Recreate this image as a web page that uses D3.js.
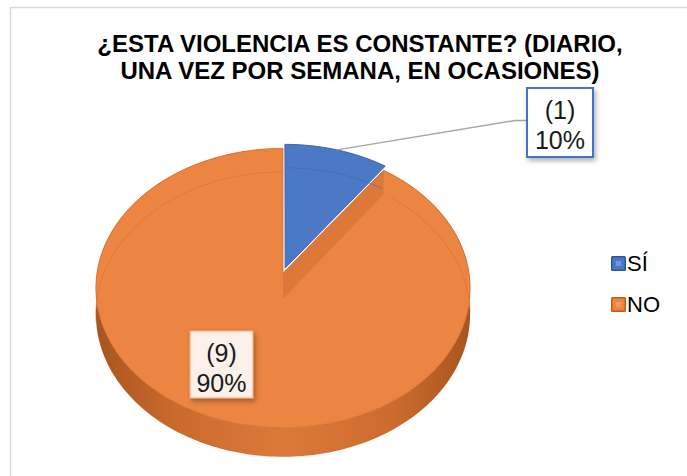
<!DOCTYPE html>
<html>
<head>
<meta charset="utf-8">
<script src="https://cdn.jsdelivr.net/npm/d3@7"></script>
<style>
  body { margin: 0; background: #fff; }
  svg text { font-family: "Liberation Sans", Arial, sans-serif; }
</style>
</head>
<body>
<svg id="chart" width="687" height="476"></svg>
<script>
// data
const categories = ['SÍ', 'NO'];
const counts = [1, 9];
const titleLines = ['¿ESTA VIOLENCIA ES CONSTANTE? (DIARIO,', 'UNA VEZ POR SEMANA, EN OCASIONES)'];

const topColor = d3.scaleOrdinal().domain(categories).range(['#4c79c6', '#ec8541']);
const edgeColor = d3.scaleOrdinal().domain(categories).range(['#3a64ad', '#d46d2b']);

const svg = d3.select('#chart');
const defs = svg.append('defs');

// chart area border
svg.append('rect')
  .attr('x', 10.5).attr('y', 7.5)
  .attr('width', 720).attr('height', 520)
  .attr('fill', 'none')
  .attr('stroke', '#d9d9d9')
  .attr('stroke-width', 1.5);

// title
svg.append('g').selectAll('text')
  .data(titleLines)
  .enter()
  .append('text')
  .attr('x', 360)
  .attr('y', (d, i) => 52 + i * 27)
  .attr('text-anchor', 'middle')
  .style('font-size', '24px')
  .style('font-weight', 'bold')
  .attr('fill', '#000')
  .text(d => d);

// 3d pie projection (perspective, tilted)
const cx = 283;
const cy = 273;
const R = 186;
const K = 0.742;
const D = 9.3 * R;
const depth = 26;
const explode = 7;

function proj(theta, r, h, off) {
  const X = r * Math.sin(theta) + (off ? off.x : 0);
  const Z = r * Math.cos(theta) + (off ? off.z : 0);
  const s = D / (D + Z);
  return [cx + X * s, cy - Z * K * s + h * s];
}

function arcPts(a, b, r, h, off) {
  const n = Math.max(2, Math.ceil(Math.abs(b - a) / 0.02));
  return d3.range(n + 1).map(i => proj(a + (b - a) * i / n, r, h, off));
}

const line = d3.line();

const pie = d3.pie().sort(null).value(d => d.v);
const slices = pie(categories.map((c, i) => ({ c, v: counts[i] })));
const total = d3.sum(counts);

slices.forEach((s) => {
  const mid = (s.startAngle + s.endAngle) / 2;
  s.mid = mid;
  s.off = s.data.c === 'SÍ'
    ? { x: explode * Math.sin(mid), z: explode * Math.cos(mid) }
    : { x: 0, z: 0 };
});

const sideGrad = defs.append('linearGradient')
  .attr('id', 'sideGrad')
  .attr('gradientUnits', 'userSpaceOnUse')
  .attr('x1', cx - R).attr('x2', cx + R)
  .attr('y1', 0).attr('y2', 0);
[[0, '#a9551f'], [0.2, '#c9692c'], [0.5, '#dc7a3b'], [0.8, '#cc6b2d'], [1, '#a9551f']]
  .forEach(([o, c]) => sideGrad.append('stop').attr('offset', o).attr('stop-color', c));

const pieG = svg.append('g');
const orange = slices.find(s => s.data.c === 'NO');
const blue = slices.find(s => s.data.c === 'SÍ');

// outer side of the big slice
const sideTop = arcPts(orange.startAngle, orange.endAngle, R, 0, orange.off);
const sideBot = arcPts(orange.endAngle, orange.startAngle, R, depth, orange.off);
pieG.append('path')
  .attr('d', line(sideTop.concat(sideBot)) + 'Z')
  .attr('fill', 'url(#sideGrad)');

// top faces
function topPath(s) {
  const c = proj(0, 0, 0, s.off);
  const pts = [c].concat(arcPts(s.startAngle, s.endAngle, R, 0, s.off));
  return line(pts) + 'Z';
}

pieG.append('path')
  .attr('d', topPath(orange))
  .attr('fill', topColor('NO'))
  .attr('stroke', edgeColor('NO'))
  .attr('stroke-width', 0.8);

// cut wall of the big slice, seen under the exploded slice
const wallPts = [
  proj(orange.startAngle, 0, 0, orange.off),
  proj(orange.startAngle, R, 0, orange.off),
  proj(orange.startAngle, R, depth, orange.off),
  proj(orange.startAngle, 0, depth, orange.off),
];
pieG.append('path')
  .attr('d', line(wallPts) + 'Z')
  .attr('fill', '#d9763a')
  .attr('opacity', 0.85);

// faint bevel line (far rim of the base)
pieG.append('path')
  .attr('d', line(arcPts(Math.PI * 1.45, Math.PI * 2, R, depth, orange.off)))
  .attr('fill', 'none')
  .attr('stroke', '#d8702e')
  .attr('stroke-width', 1)
  .attr('opacity', 0.6);
pieG.append('path')
  .attr('d', line(arcPts(orange.startAngle + 0.05, Math.PI * 0.53, R, depth, orange.off)))
  .attr('fill', 'none')
  .attr('stroke', '#d8702e')
  .attr('stroke-width', 1)
  .attr('opacity', 0.6);

// exploded small slice
pieG.append('path')
  .attr('d', topPath(blue))
  .attr('fill', topColor('SÍ'))
  .attr('stroke', edgeColor('SÍ'))
  .attr('stroke-width', 1);
pieG.append('path')
  .attr('d', line(arcPts(blue.startAngle, blue.endAngle - 0.02, R, depth, blue.off)))
  .attr('fill', 'none')
  .attr('stroke', '#3d67b3')
  .attr('stroke-width', 1)
  .attr('opacity', 0.6);

// label shadows
const shadow = defs.append('filter').attr('id', 'shadow')
  .attr('x', '-20%').attr('y', '-20%').attr('width', '150%').attr('height', '150%');
shadow.append('feDropShadow')
  .attr('dx', 2).attr('dy', 3).attr('stdDeviation', 2.5)
  .attr('flood-color', '#000').attr('flood-opacity', 0.3);

const fmtPct = d3.format('.0%');
const labelBoxes = {
  'SÍ': { x: 527, y: 88, w: 66, h: 69, fill: '#ffffff', stroke: '#4472c4', sw: 2 },
  'NO': { x: 190, y: 331, w: 63, h: 67, fill: '#fbf0ea', stroke: '#f0a877', sw: 1 },
};

// leader line for the small slice
const bb = labelBoxes['SÍ'];
const start = proj(blue.mid, R, 0, blue.off);
svg.append('path')
  .attr('d', line([start, [bb.x - 12, bb.y + bb.h / 2 - 2], [bb.x, bb.y + bb.h / 2 - 2]]))
  .attr('fill', 'none')
  .attr('stroke', '#a6a6a6')
  .attr('stroke-width', 1.5);

const labels = svg.append('g').selectAll('g')
  .data(slices)
  .enter()
  .append('g');

labels.append('rect')
  .attr('x', d => labelBoxes[d.data.c].x)
  .attr('y', d => labelBoxes[d.data.c].y)
  .attr('width', d => labelBoxes[d.data.c].w)
  .attr('height', d => labelBoxes[d.data.c].h)
  .attr('fill', d => labelBoxes[d.data.c].fill)
  .attr('stroke', d => labelBoxes[d.data.c].stroke)
  .attr('stroke-width', d => labelBoxes[d.data.c].sw)
  .attr('filter', 'url(#shadow)');

labels.append('text')
  .attr('x', d => labelBoxes[d.data.c].x + labelBoxes[d.data.c].w / 2)
  .attr('y', d => labelBoxes[d.data.c].y + 31)
  .attr('text-anchor', 'middle')
  .style('font-size', '25px')
  .attr('fill', '#1a1a1a')
  .text(d => `(${d.data.v})`);

labels.append('text')
  .attr('x', d => labelBoxes[d.data.c].x + labelBoxes[d.data.c].w / 2)
  .attr('y', d => labelBoxes[d.data.c].y + 61)
  .attr('text-anchor', 'middle')
  .style('font-size', '25px')
  .attr('fill', '#1a1a1a')
  .text(d => fmtPct(d.data.v / total));

// legend
const legendOuter = d3.scaleOrdinal().domain(categories).range(['#2f5597', '#c55a11']);
const legendInner = d3.scaleOrdinal().domain(categories).range(['#6f97dc', '#f49a5e']);
const legend = svg.append('g').selectAll('g')
  .data(categories)
  .enter()
  .append('g')
  .attr('transform', (d, i) => `translate(611, ${256 + i * 41})`);

legend.append('rect')
  .attr('width', 15).attr('height', 15)
  .attr('rx', 1.5)
  .attr('fill', d => legendOuter(d));
legend.append('rect')
  .attr('x', 1.5).attr('y', 1.5)
  .attr('width', 12).attr('height', 12)
  .attr('fill', d => topColor(d));
legend.append('rect')
  .attr('x', 5).attr('y', 5)
  .attr('width', 5).attr('height', 5)
  .attr('fill', d => legendInner(d));
legend.append('text')
  .attr('x', 16)
  .attr('y', 15)
  .style('font-size', '22px')
  .attr('fill', '#000')
  .text(d => d);
</script>
</body>
</html>
